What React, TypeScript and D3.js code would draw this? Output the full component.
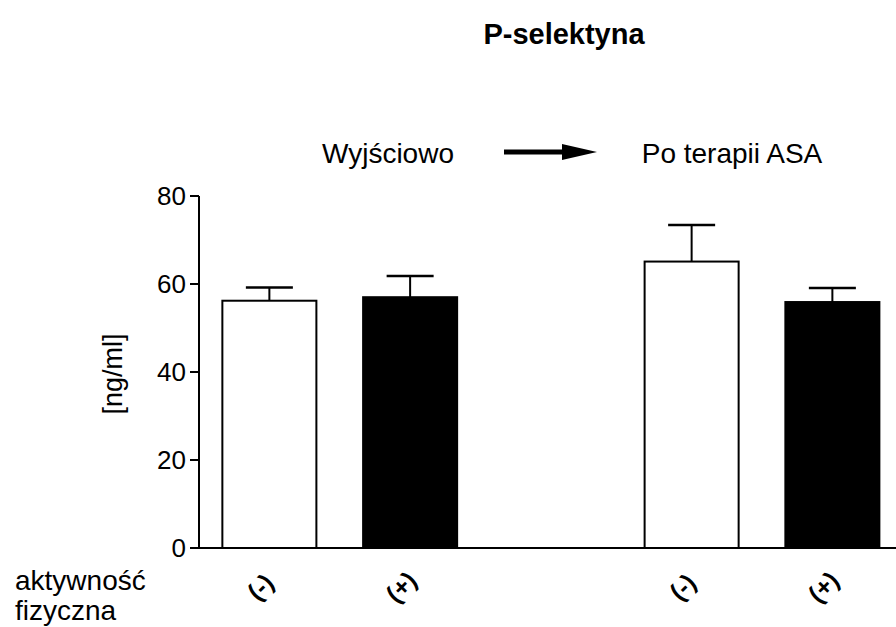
import React from 'react';
import * as d3 from 'd3';

// groups / bars
const categories = ['Wyjściowo (-)', 'Wyjściowo (+)', 'Po terapii ASA (-)', 'Po terapii ASA (+)'];
const tickLabels = ['(-)', '(+)', '(-)', '(+)'];
const means = [56.2, 57.0, 65.1, 55.9];
const sems = [3.0, 4.8, 8.3, 3.2];
const yTicks = [0, 20, 40, 60, 80];

const title = 'P-selektyna';
const phaseBefore = 'Wyjściowo';
const phaseAfter = 'Po terapii ASA';
const yLabel = '[ng/ml]';
const rowLabel = ['aktywność', 'fizyczna'];

const W = 896;
const H = 627;
const FONT = '"Liberation Sans", Arial, sans-serif';

const App = () => {
    const x0 = 199;
    const yBottom = 548;
    const yTop = 196;

    // spacer slot in the middle keeps the two groups apart
    const slots = [categories[0], categories[1], '__gap', categories[2], categories[3]];
    const x = d3.scaleBand<string>()
        .domain(slots)
        .range([x0, x0 + 5 * 140.75])
        .paddingInner(0.332)
        .paddingOuter(0.166);

    const y = d3.scaleLinear().domain([0, 80]).range([yBottom, yTop]);

    const bw = x.bandwidth();

    return (
        <svg width={W} height={H} style={{position: 'absolute', left: 0, top: 0}} fontFamily={FONT}>
            <rect width={W} height={H} fill="white" />

            <text x={564} y={44} textAnchor="middle" fontSize={29} fontWeight="bold">{title}</text>

            <text x={388} y={163} textAnchor="middle" fontSize={28}>{phaseBefore}</text>
            <line x1={504} x2={566} y1={152} y2={152} stroke="black" strokeWidth={5} />
            <path d="M562,144 L597,152 L562,160 Z" fill="black" />
            <text x={732} y={163} textAnchor="middle" fontSize={28}>{phaseAfter}</text>

            {/* y axis */}
            <line x1={x0} x2={x0} y1={y(80)} y2={y(0)} stroke="black" strokeWidth={2} />
            {yTicks.map(t => (
                <g key={t}>
                    <line x1={x0 - 9} x2={x0} y1={y(t)} y2={y(t)} stroke="black" strokeWidth={2} />
                    <text x={x0 - 13} y={y(t)} dy="0.36em" textAnchor="end" fontSize={26}>{t}</text>
                </g>
            ))}
            <text transform={`translate(122,${y(40) + 2}) rotate(-90)`} textAnchor="middle" fontSize={27}>{yLabel}</text>

            {/* bars */}
            {categories.map((c, i) => {
                const bx = x(c) as number;
                const cx = bx + bw / 2;
                const top = y(means[i]);
                const err = y(means[i] + sems[i]);
                return (
                    <g key={c}>
                        <line x1={cx} x2={cx} y1={top} y2={err} stroke="black" strokeWidth={2} />
                        <line x1={cx - bw / 4} x2={cx + bw / 4} y1={err} y2={err} stroke="black" strokeWidth={2.5} />
                        <rect x={bx} y={top} width={bw} height={yBottom - top}
                              fill={i % 2 === 0 ? 'white' : 'black'} stroke="black" strokeWidth={2} />
                    </g>
                );
            })}

            {/* x axis */}
            <line x1={x0} x2={W} y1={yBottom} y2={yBottom} stroke="black" strokeWidth={2} />
            {categories.map((c, i) => (
                <text key={c} transform={`translate(${(x(c) as number) + bw / 2 - 9},587) rotate(-45)`}
                      textAnchor="middle" dy="0.35em" fontSize={25} fontWeight="bold">{tickLabels[i]}</text>
            ))}

            <text x={15} y={590} fontSize={28}>{rowLabel[0]}</text>
            <text x={15} y={620} fontSize={28}>{rowLabel[1]}</text>
        </svg>
    );
};

export default App;
